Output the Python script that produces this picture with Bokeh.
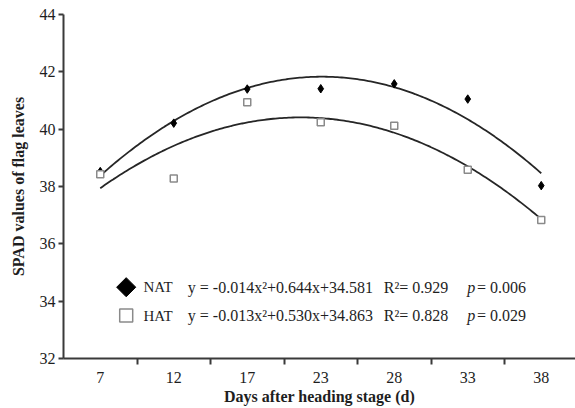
import numpy as np
from bokeh.plotting import figure
from bokeh.models import Range1d, FixedTicker, Label, ColumnDataSource
from bokeh.embed import file_html
from bokeh.resources import INLINE

# ---- data ----
days = [7, 12, 17, 23, 28, 33, 38]
nat = [38.52, 40.21, 41.40, 41.41, 41.58, 41.05, 38.03]
hat = [38.43, 38.28, 40.94, 40.24, 40.12, 38.58, 36.83]
y_ticks = [32, 34, 36, 38, 40, 42, 44]
series_names = ["NAT", "HAT"]
equations = ["y = -0.014x\u00b2+0.644x+34.581", "y = -0.013x\u00b2+0.530x+34.863"]
r2_texts = ["R\u00b2= 0.929", "R\u00b2= 0.828"]
p_texts = ["= 0.006", "= 0.029"]

SERIF = "Liberation Serif"
INK = "#1e1e1e"
AXC = "#3a3a3a"
SQ = "#8a8a8a"

pos = [i + 0.5 for i in range(len(days))]
bounds = [i + 1 for i in range(len(days))]

W, H = 575, 408
LEFT, TOP, BOTTOM = 63, 14, 50
FW, FH = W - LEFT, H - TOP - BOTTOM
p = figure(width=W, height=H, output_backend="svg", toolbar_location=None,
           x_range=Range1d(0, FW / 73.5), y_range=Range1d(32, 44),
           min_border_left=LEFT, min_border_right=0, min_border_top=TOP, min_border_bottom=BOTTOM)
p.outline_line_color = None
p.grid.visible = False
p.background_fill_color = "white"
p.border_fill_color = "white"
# pixel-based ranges for placing the key symbols
p.extra_x_ranges = {"px": Range1d(0, FW)}
p.extra_y_ranges = {"px": Range1d(0, FH)}

# trendlines (quadratic least squares in plotted position space)
xs = np.linspace(pos[0], pos[-1], 200)
for vals in (nat, hat):
    c = np.polyfit(pos, vals, 2)
    p.line(xs, np.polyval(c, xs), line_color="#262626", line_width=1.8)

src = ColumnDataSource(dict(x=pos, nat=nat, hat=hat))
p.scatter("x", "nat", source=src, marker="diamond", size=8.5, fill_color="black", line_color="black")
p.scatter("x", "hat", source=src, marker="square", size=7, fill_color="white",
          line_color=SQ, line_width=1.5)

# key (legend) rows, positions in px from frame bottom-left
row_y = [358 - 286.7, 358 - 315.0]
key_x = 125.7 - LEFT
p.scatter([key_x], [row_y[0]], x_range_name="px", y_range_name="px", marker="square",
          angle=np.pi / 4, size=13.5, fill_color="black", line_color="black")
p.scatter([key_x], [row_y[1]], x_range_name="px", y_range_name="px", marker="square",
          size=13, fill_color="white", line_color=SQ, line_width=1.5)

for yy, nm, eq, r2, pv in zip(row_y, series_names, equations, r2_texts, p_texts):
    for xx, t, style, fs in ((143 - LEFT, nm, "normal", "15px"),
                             (187.3 - LEFT, eq, "normal", "16px"),
                             (383.3 - LEFT, r2, "normal", "16px"),
                             (466.7 - LEFT, "p", "italic", "16px"),
                             (476.5 - LEFT, pv, "normal", "16px")):
        p.add_layout(Label(x=xx, y=yy, x_units="screen", y_units="screen", text=t,
                           text_font=SERIF, text_font_size=fs, text_color=INK,
                           text_font_style=style, text_baseline="middle", text_align="left"))

# axes
xa = p.xaxis[0]
xa.ticker = FixedTicker(ticks=pos, minor_ticks=bounds)
xa.major_label_overrides = {pp: str(d) for pp, d in zip(pos, days)}
xa.major_tick_out = 0
xa.major_tick_in = 0
xa.minor_tick_out = 6
xa.minor_tick_in = 0
xa.minor_tick_line_color = AXC
xa.minor_tick_line_width = 2
xa.axis_line_color = AXC
xa.axis_line_width = 2
xa.major_label_text_font = SERIF
xa.major_label_text_font_size = "16px"
xa.major_label_text_color = INK
xa.major_label_standoff = 7
xa.axis_label = "Days after heading stage (d)"
xa.axis_label_text_font = SERIF
xa.axis_label_text_font_size = "16px"
xa.axis_label_text_font_style = "bold"
xa.axis_label_text_color = INK
xa.axis_label_standoff = 2

ya = p.yaxis[0]
ya.ticker = FixedTicker(ticks=y_ticks, minor_ticks=[])
ya.major_tick_out = 5
ya.major_tick_in = 0
ya.minor_tick_out = 0
ya.minor_tick_in = 0
ya.major_tick_line_color = AXC
ya.major_tick_line_width = 2
ya.axis_line_color = AXC
ya.axis_line_width = 2
ya.major_label_text_font = SERIF
ya.major_label_text_font_size = "16px"
ya.major_label_text_color = INK
ya.major_label_standoff = 3
ya.axis_label = "SPAD values of flag leaves"
ya.axis_label_text_font = SERIF
ya.axis_label_text_font_size = "16px"
ya.axis_label_text_font_style = "bold"
ya.axis_label_text_color = INK
ya.axis_label_standoff = 10

open("out.html", "w").write(file_html(p, INLINE))
